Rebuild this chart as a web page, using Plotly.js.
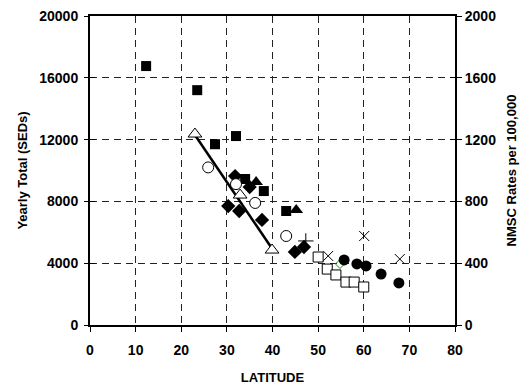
<!DOCTYPE html>
<html>
<head>
<meta charset="utf-8">
<script src="https://cdn.plot.ly/plotly-3.0.1.min.js"></script>
<style>html,body{margin:0;padding:0;background:#fff;}#chart{width:522px;height:385px;}</style>
</head>
<body>
<div id="chart"></div>
<script>
// Latitude / yearly total values
const sqFilledX = [12.3, 23.5, 27.4, 32.0, 34.0, 38.1, 43.0];
const sqFilledY = [16760, 15200, 11700, 12230, 9450, 8670, 7380];
const triFilledX = [36.4, 45.2];
const triFilledY = [9250, 7440];
const diaFilledX = [31.8, 35.0, 30.3, 32.7, 37.7, 44.9, 46.9];
const diaFilledY = [9640, 8930, 7700, 7380, 6800, 4730, 5050];
const circOpenX = [25.9, 32.0, 36.2, 43.0];
const circOpenY = [10200, 9120, 7900, 5760];
const triOpenX = [23.0, 32.9, 39.9];
const triOpenY = [12360, 8410, 4850];
const fitX = [23.0, 40.0];
const fitY = [12300, 4900];
const plusX = [47.3];
const plusY = [5440];
const crossX = [52.2, 60.1, 67.9];
const crossY = [4470, 5760, 4270];
const sqOpenX = [50.0, 52.0, 53.9, 56.1, 57.9, 60.0];
const sqOpenY = [4400, 3620, 3240, 2780, 2780, 2460];
const greenDiaX = [54.8];
const greenDiaY = [3950];
const circFilledX = [55.7, 58.5, 60.5, 63.8, 67.7];
const circFilledY = [4210, 3950, 3820, 3300, 2720];

const xTicks = [0, 10, 20, 30, 40, 50, 60, 70, 80];
const yTicks = [0, 4000, 8000, 12000, 16000, 20000];
const y2Ticks = [0, 400, 800, 1200, 1600, 2000];

const FONT = 'Liberation Sans, Arial, sans-serif';

function pts(x, y, symbol, size, color, lineColor, lineWidth) {
  return {
    x: x, y: y, type: 'scatter', mode: 'markers', xaxis: 'x', yaxis: 'y',
    marker: {symbol: symbol, size: size, color: color,
             line: {color: lineColor, width: lineWidth}},
    hoverinfo: 'skip', showlegend: false
  };
}

const traces = [
  {x: fitX, y: fitY, type: 'scatter', mode: 'lines', line: {color: '#000', width: 2.5},
   hoverinfo: 'skip', showlegend: false},
  pts(sqFilledX, sqFilledY, 'square', 10, '#000', '#000', 0),
  pts(triFilledX, triFilledY, 'triangle-up', 12, '#000', '#000', 0),
  pts(diaFilledX, diaFilledY, 'diamond', 11, '#000', '#000', 0),
  pts(circOpenX, circOpenY, 'circle', 11, '#fff', '#000', 1),
  pts(triOpenX, triOpenY, 'triangle-up', 12, '#fff', '#000', 1),
  pts(plusX, plusY, 'cross-thin-open', 11, '#000', '#000', 1),
  pts(crossX, crossY, 'x-thin-open', 10, '#000', '#000', 1),
  pts(sqOpenX, sqOpenY, 'square', 10, '#fff', '#000', 1),
  pts(greenDiaX, greenDiaY, 'diamond-open', 7, '#1a8a1a', '#1a8a1a', 1),
  pts(circFilledX, circFilledY, 'circle', 11, '#000', '#000', 0),
  {x: [], y: [], type: 'scatter', yaxis: 'y2', showlegend: false, hoverinfo: 'skip'},
  {x: [], y: [], type: 'scatter', yaxis: 'y3', showlegend: false, hoverinfo: 'skip'},
  {x: [], y: [], type: 'scatter', yaxis: 'y4', showlegend: false, hoverinfo: 'skip'}
];

const tickFont = {family: FONT, size: 14, color: '#000', weight: 'bold'};
const titleFont = {family: FONT, size: 13, color: '#000', weight: 'bold'};

const layout = {
  width: 522, height: 385,
  margin: {l: 90, r: 67, t: 16, b: 60},
  paper_bgcolor: '#fff', plot_bgcolor: '#fff',
  showlegend: false,
  xaxis: {
    range: [0, 80], tickvals: xTicks, ticktext: xTicks.map(String),
    showgrid: true, gridcolor: '#222', griddash: '7px,5px', gridwidth: 1,
    zeroline: false, showline: true, linecolor: '#000', linewidth: 2, mirror: true,
    ticks: 'outside', ticklen: 5, tickcolor: '#000', tickwidth: 1,
    ticklabelstandoff: 6,
    tickfont: tickFont,
    title: {text: 'LATITUDE', font: titleFont, standoff: 20}
  },
  yaxis: {
    range: [0, 20000], tickvals: yTicks, ticktext: yTicks.map(String),
    showgrid: true, gridcolor: '#222', griddash: '7px,5px', gridwidth: 1,
    zeroline: false, showline: true, linecolor: '#000', linewidth: 2,
    ticks: 'outside', ticklen: 4, tickcolor: '#000', tickwidth: 1,
    ticklabelstandoff: 3,
    tickfont: tickFont,
    title: {text: 'Yearly Total (SEDs)', font: titleFont, standoff: 9}
  },
  yaxis2: {
    range: [0, 2000], tickvals: y2Ticks, ticktext: y2Ticks.map(String),
    overlaying: 'y', side: 'right', anchor: 'x',
    showgrid: false, zeroline: false, showline: true, linecolor: '#000', linewidth: 2,
    ticks: 'outside', ticklen: 5, tickcolor: '#000', tickwidth: 1,
    tickfont: tickFont,
    title: {text: 'NMSC Rates per 100,000', font: titleFont, standoff: 12}
  },
  yaxis3: {
    range: [0, 20000], tickvals: yTicks, overlaying: 'y', side: 'left', anchor: 'x',
    showgrid: false, zeroline: false, showline: false, showticklabels: false,
    ticks: 'inside', ticklen: 5, tickcolor: '#000', tickwidth: 1
  },
  yaxis4: {
    range: [0, 2000], tickvals: y2Ticks, overlaying: 'y', side: 'right', anchor: 'x',
    showgrid: false, zeroline: false, showline: false, showticklabels: false,
    ticks: 'inside', ticklen: 5, tickcolor: '#000', tickwidth: 1
  }
};

Plotly.newPlot('chart', traces, layout, {staticPlot: true, displayModeBar: false});
</script>
</body>
</html>
